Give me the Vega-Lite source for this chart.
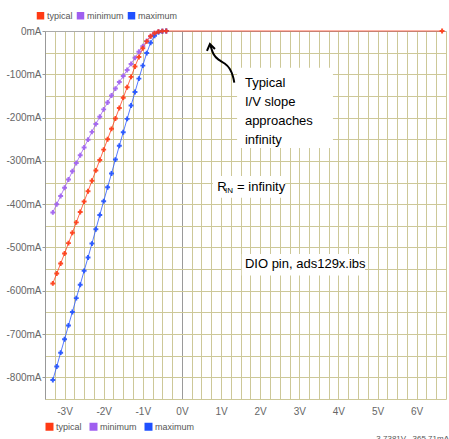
{
  "$schema": "https://vega.github.io/schema/vega-lite/v6.json",
  "width": 401,
  "height": 368,
  "autosize": {"type": "none"},
  "padding": {"left": 45, "top": 31, "right": 3, "bottom": 40},
  "background": "white",
  "config": {"view": {"stroke": null}, "font": "Liberation Sans Narrow, Liberation Sans, Arial, sans-serif"},
  "title": {"text": "3.7381V, -365.71mA", "orient": "bottom", "anchor": "end", "fontSize": 8, "fontWeight": "normal", "color": "#555", "offset": -2, "dx": 3, "font": "Liberation Sans, Arial, sans-serif"},
  "datasets": {
    "curves": [
      {"s":"minimum","v":-3.3,"i":-419},{"s":"minimum","v":-3.2,"i":-400},{"s":"minimum","v":-3.1,"i":-381},{"s":"minimum","v":-3.0,"i":-362},{"s":"minimum","v":-2.9,"i":-343},{"s":"minimum","v":-2.8,"i":-324},{"s":"minimum","v":-2.7,"i":-305},{"s":"minimum","v":-2.6,"i":-287},{"s":"minimum","v":-2.5,"i":-269},{"s":"minimum","v":-2.4,"i":-251},{"s":"minimum","v":-2.3,"i":-233},{"s":"minimum","v":-2.2,"i":-215},{"s":"minimum","v":-2.1,"i":-198},{"s":"minimum","v":-2.0,"i":-181},{"s":"minimum","v":-1.9,"i":-165},{"s":"minimum","v":-1.8,"i":-149},{"s":"minimum","v":-1.7,"i":-133},{"s":"minimum","v":-1.6,"i":-118},{"s":"minimum","v":-1.5,"i":-104},{"s":"minimum","v":-1.4,"i":-90},{"s":"minimum","v":-1.3,"i":-76},{"s":"minimum","v":-1.2,"i":-62},{"s":"minimum","v":-1.1,"i":-48},{"s":"minimum","v":-1.0,"i":-35},{"s":"minimum","v":-0.9,"i":-23},{"s":"minimum","v":-0.8,"i":-12},{"s":"minimum","v":-0.7,"i":-5},{"s":"minimum","v":-0.6,"i":-1.5},{"s":"minimum","v":-0.5,"i":-0.3},{"s":"minimum","v":-0.4,"i":0},
      {"s":"maximum","v":-3.3,"i":-806},{"s":"maximum","v":-3.2,"i":-775},{"s":"maximum","v":-3.1,"i":-743},{"s":"maximum","v":-3.0,"i":-712},{"s":"maximum","v":-2.9,"i":-680},{"s":"maximum","v":-2.8,"i":-649},{"s":"maximum","v":-2.7,"i":-617},{"s":"maximum","v":-2.6,"i":-586},{"s":"maximum","v":-2.5,"i":-554},{"s":"maximum","v":-2.4,"i":-523},{"s":"maximum","v":-2.3,"i":-491},{"s":"maximum","v":-2.2,"i":-458},{"s":"maximum","v":-2.1,"i":-425},{"s":"maximum","v":-2.0,"i":-393},{"s":"maximum","v":-1.9,"i":-361},{"s":"maximum","v":-1.8,"i":-329},{"s":"maximum","v":-1.7,"i":-297},{"s":"maximum","v":-1.6,"i":-265},{"s":"maximum","v":-1.5,"i":-234},{"s":"maximum","v":-1.4,"i":-203},{"s":"maximum","v":-1.3,"i":-172},{"s":"maximum","v":-1.2,"i":-141},{"s":"maximum","v":-1.1,"i":-110},{"s":"maximum","v":-1.0,"i":-80},{"s":"maximum","v":-0.9,"i":-51},{"s":"maximum","v":-0.8,"i":-27},{"s":"maximum","v":-0.7,"i":-11},{"s":"maximum","v":-0.6,"i":-3},{"s":"maximum","v":-0.5,"i":-0.5},{"s":"maximum","v":-0.4,"i":0},
      {"s":"typical","v":-3.3,"i":-583},{"s":"typical","v":-3.2,"i":-560},{"s":"typical","v":-3.1,"i":-537},{"s":"typical","v":-3.0,"i":-514},{"s":"typical","v":-2.9,"i":-490},{"s":"typical","v":-2.8,"i":-466},{"s":"typical","v":-2.7,"i":-442},{"s":"typical","v":-2.6,"i":-418},{"s":"typical","v":-2.5,"i":-394},{"s":"typical","v":-2.4,"i":-370},{"s":"typical","v":-2.3,"i":-346},{"s":"typical","v":-2.2,"i":-322},{"s":"typical","v":-2.1,"i":-298},{"s":"typical","v":-2.0,"i":-274},{"s":"typical","v":-1.9,"i":-250},{"s":"typical","v":-1.8,"i":-226},{"s":"typical","v":-1.7,"i":-202},{"s":"typical","v":-1.6,"i":-178},{"s":"typical","v":-1.5,"i":-154},{"s":"typical","v":-1.4,"i":-130},{"s":"typical","v":-1.3,"i":-106},{"s":"typical","v":-1.2,"i":-82},{"s":"typical","v":-1.1,"i":-60},{"s":"typical","v":-1.0,"i":-40},{"s":"typical","v":-0.9,"i":-24},{"s":"typical","v":-0.8,"i":-12},{"s":"typical","v":-0.7,"i":-5},{"s":"typical","v":-0.6,"i":-1.5},{"s":"typical","v":-0.5,"i":-0.3},{"s":"typical","v":-0.4,"i":0},{"s":"typical","v":6.65,"i":0}
    ],
    "boxes": [
      {"v":1.41,"v2":3.86,"i":-85,"i2":-270},
      {"v":0.79,"v2":2.63,"i":-335,"i2":-385},
      {"v":1.53,"v2":4.68,"i":-515,"i2":-565}
    ],
    "notes": [
      {"v":1.61,"i":-119,"t":"Typical"},
      {"v":1.61,"i":-163,"t":"I/V slope"},
      {"v":1.61,"i":-209,"t":"approaches"},
      {"v":1.61,"i":-252,"t":"infinity"},
      {"v":0.9,"i":-360,"t":"R"},
      {"v":1.41,"i":-360,"t":"= infinity"},
      {"v":1.61,"i":-538,"t":"DIO pin, ads129x.ibs"}
    ],
    "subs": [{"v":1.1,"i":-370,"t":"IN"}],
    "arrowBody": [
      {"v":0.734,"i":-34.6},{"v":0.80,"i":-55.4},{"v":0.928,"i":-66.9},{"v":1.10,"i":-74.5},{"v":1.228,"i":-86.1},{"v":1.312,"i":-105.5},{"v":1.338,"i":-119.3}
    ],
    "arrowHead": [
      {"v":0.64,"i":-46,"o":1},{"v":0.716,"i":-30,"o":2},{"v":0.844,"i":-41.5,"o":3}
    ]
  },
  "encoding": {
    "x": {
      "field": "v", "type": "quantitative",
      "scale": {"domain": [-3.5, 6.75], "nice": false, "zero": false},
      "axis": {
        "title": null,
        "values": [-3.5,-3.25,-3,-2.75,-2.5,-2.25,-2,-1.75,-1.5,-1.25,-1,-0.75,-0.5,-0.25,0,0.25,0.5,0.75,1,1.25,1.5,1.75,2,2.25,2.5,2.75,3,3.25,3.5,3.75,4,4.25,4.5,4.75,5,5.25,5.5,5.75,6,6.25,6.5,6.75],
        "labelExpr": "datum.value % 1 === 0 ? datum.value + 'V' : ''",
        "labelOverlap": false, "labelFlush": false, "ticks": false, "domain": false,
        "labelPadding": 7, "labelFontSize": 10, "labelColor": "#666",
        "grid": true,
        "gridColor": {"condition": {"test": "datum.value === 0", "value": "#9a9a9a"}, "value": "#cdc898"}
      }
    },
    "y": {
      "field": "i", "type": "quantitative",
      "scale": {"domain": [-850, 0], "nice": false, "zero": false},
      "axis": {
        "title": null,
        "values": [-850,-800,-750,-700,-650,-600,-550,-500,-450,-400,-350,-300,-250,-200,-150,-100,-50,0],
        "labelExpr": "datum.value % 100 === 0 ? datum.value + 'mA' : ''",
        "labelOverlap": false, "labelFontSize": 10, "labelColor": "#666",
        "tickSize": 3, "tickColor": "#999",
        "tickOpacity": {"condition": {"test": "datum.value % 100 === 0", "value": 1}, "value": 0},
        "labelPadding": 1, "domainColor": "#999",
        "grid": true,
        "gridColor": {"condition": {"test": "datum.value === 0", "value": "#aaaaaa"}, "value": "#cdc898"}
      }
    }
  },
  "layer": [
    {
      "data": {"name": "boxes"},
      "mark": {"type": "rect", "fill": "white"},
      "encoding": {"x2": {"field": "v2"}, "y2": {"field": "i2"}}
    },
    {
      "data": {"name": "curves"},
      "mark": {"type": "line", "strokeWidth": 1, "opacity": 0.75},
      "encoding": {
        "stroke": {
          "field": "s", "type": "nominal",
          "scale": {"domain": ["typical", "minimum", "maximum"], "range": ["#ff3a14", "#9f5ff0", "#1f50ff"]},
          "legend": {
            "orient": "bottom", "offset": 6, "direction": "horizontal", "title": null,
            "symbolType": "square", "symbolSize": 16, "symbolStrokeWidth": 4, "symbolOpacity": 1,
            "labelFontSize": 9, "labelColor": "#555", "columnPadding": 1, "labelOffset": 2
          }
        }
      }
    },
    {
      "data": {"name": "curves"},
      "mark": {"type": "point", "shape": "cross", "filled": true, "size": 24, "opacity": 0.9},
      "encoding": {
        "fill": {
          "field": "s", "type": "nominal",
          "scale": {"domain": ["typical", "minimum", "maximum"], "range": ["#ff3a14", "#9f5ff0", "#1f50ff"]},
          "legend": {
            "orient": "none", "legendX": -9, "legendY": -20, "direction": "horizontal", "title": null,
            "symbolType": "square", "symbolSize": 56, "labelFontSize": 9, "labelColor": "#555",
            "columnPadding": 3, "labelOffset": 2, "symbolStrokeWidth": 0, "symbolOpacity": 1
          }
        }
      }
    },
    {
      "data": {"name": "arrowBody"},
      "mark": {"type": "line", "color": "black", "strokeWidth": 2, "interpolate": "basis"},
      "encoding": {}
    },
    {
      "data": {"name": "arrowHead"},
      "mark": {"type": "line", "color": "black", "strokeWidth": 2},
      "encoding": {"order": {"field": "o", "type": "quantitative"}}
    },
    {
      "data": {"name": "notes"},
      "mark": {"type": "text", "align": "left", "baseline": "middle", "fontSize": 13, "color": "black"},
      "encoding": {"text": {"field": "t"}}
    },
    {
      "data": {"name": "subs"},
      "mark": {"type": "text", "align": "left", "baseline": "middle", "fontSize": 8, "color": "black"},
      "encoding": {"text": {"field": "t"}}
    }
  ]
}
